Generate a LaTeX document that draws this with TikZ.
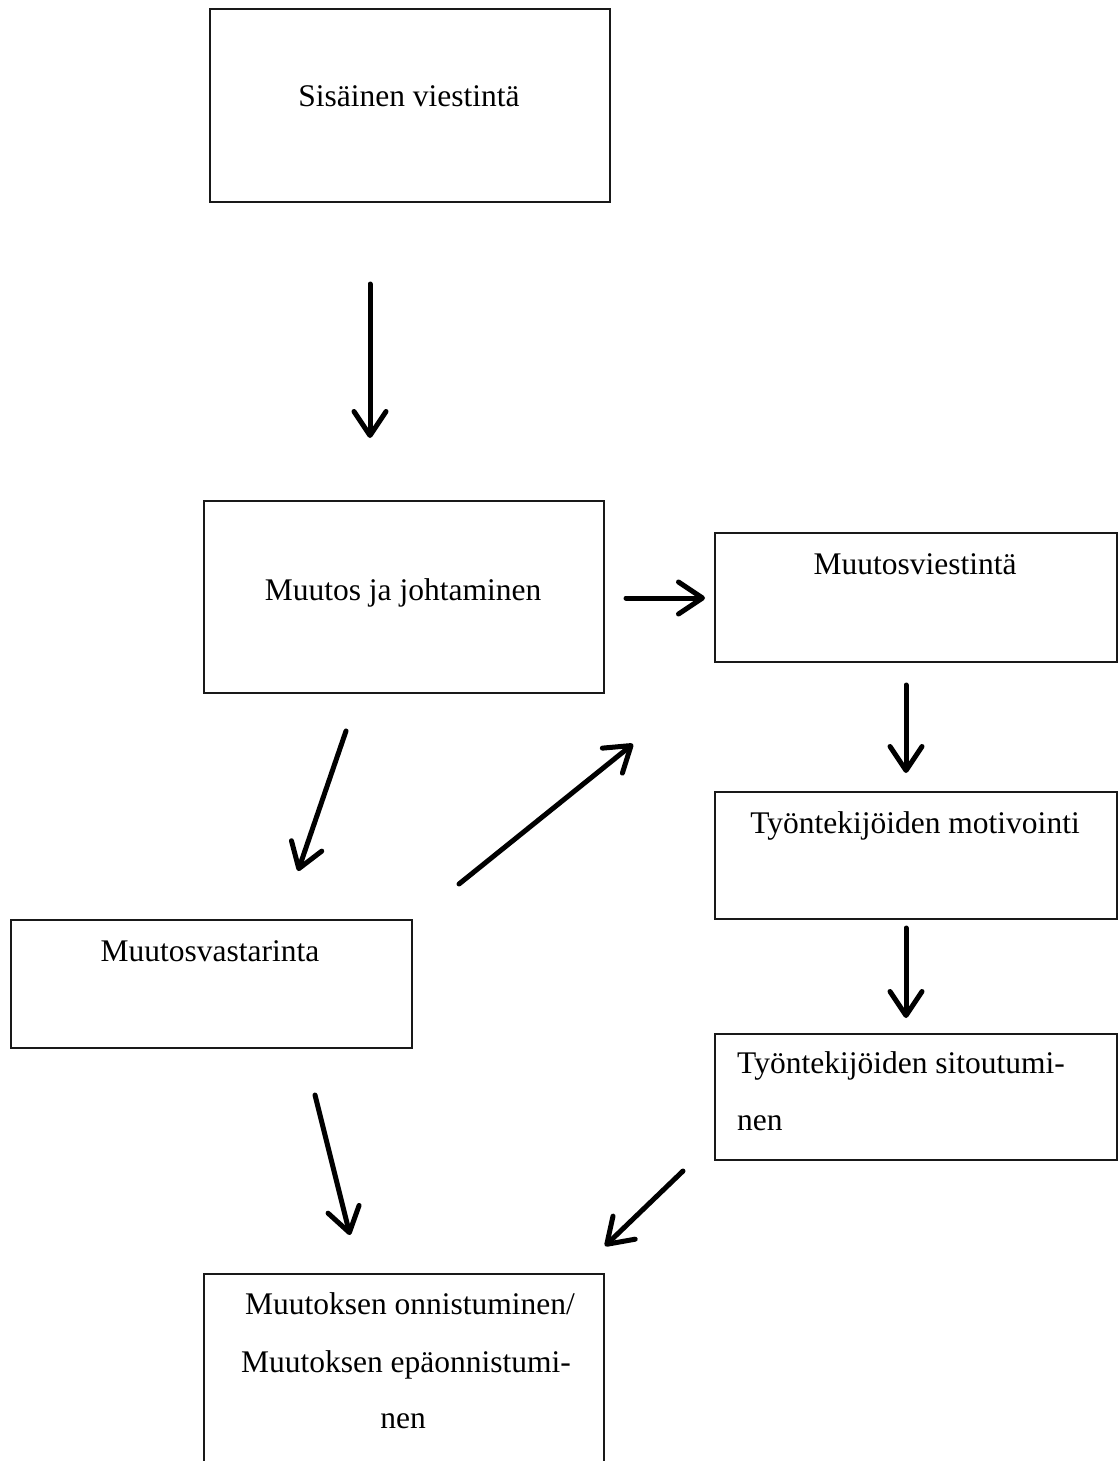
\documentclass[tikz,border=0pt]{standalone}
\usepackage{fontspec}
\setmainfont{Liberation Serif}
\usetikzlibrary{arrows.meta}
\begin{document}
\begin{tikzpicture}[x=1pt,y=-1pt,
  boxstyle/.style={draw=black!90,line width=1.7pt,rectangle,inner sep=0pt,anchor=north west},
  txt/.style={inner sep=0pt,font=\fontsize{31.5}{57}\selectfont},
  conn/.style={line width=5pt,line cap=round,-{Straight Barb[length=24pt,width=32pt,round]}}
]
\useasboundingbox (0,0) rectangle (1119,1461);
\clip (0,0) rectangle (1119,1461);
\fill[white] (0,0) rectangle (1119,1461);

% boxes
\node[boxstyle,minimum width=400pt,minimum height=193pt] (b1) at (209,8) {};
\node[boxstyle,minimum width=400pt,minimum height=192pt] (b2) at (203,500) {};
\node[boxstyle,minimum width=402pt,minimum height=129pt] (b3) at (714,532) {};
\node[boxstyle,minimum width=402pt,minimum height=127pt] (b4) at (714,791) {};
\node[boxstyle,minimum width=402pt,minimum height=126pt] (b5) at (714,1033) {};
\node[boxstyle,minimum width=401pt,minimum height=128pt] (b6) at (10,919) {};
\node[boxstyle,minimum width=400pt,minimum height=260pt] (b7) at (203,1273) {};

% texts
\node[txt,anchor=base] (t1) at (409,107) {Sisäinen viestintä};
\node[txt,anchor=base] (t2) at (403,600) {Muutos ja johtaminen};
\node[txt,anchor=base] (t3) at (915,574) {Muutosviestintä};
\node[txt,anchor=base] (t4) at (915,833) {Työntekijöiden motivointi};
\node[txt,anchor=base west] (t5a) at (737,1073) {Työntekijöiden sitoutumi-};
\node[txt,anchor=base west] (t5b) at (737,1130) {nen};
\node[txt,anchor=base] (t6) at (210,961) {Muutosvastarinta};
\node[txt,anchor=base] (t7a) at (410,1314) {Muutoksen onnistuminen/};
\node[txt,anchor=base] (t7b) at (406,1372) {Muutoksen epäonnistumi-};
\node[txt,anchor=base] (t7c) at (403,1428) {nen};

% connector end points
\coordinate (a1s) at (370,284);
\coordinate (a1e) at (370,438);
\coordinate (a2s) at (626,598);
\coordinate (a2e) at (705,598);
\coordinate (a3s) at (906,685);
\coordinate (a3e) at (906,773);
\coordinate (a4s) at (906,928);
\coordinate (a4e) at (906,1018);
\coordinate (a5s) at (346,731);
\coordinate (a5e) at (298,871);
\coordinate (a6s) at (459,884);
\coordinate (a6e) at (633,744);
\coordinate (a7s) at (315,1095);
\coordinate (a7e) at (350,1235);
\coordinate (a8s) at (683,1171);
\coordinate (a8e) at (605,1246);

\draw[conn] (a1s) -- (a1e);
\draw[conn] (a2s) -- (a2e);
\draw[conn] (a3s) -- (a3e);
\draw[conn] (a4s) -- (a4e);
\draw[conn] (a5s) -- (a5e);
\draw[conn] (a6s) -- (a6e);
\draw[conn] (a7s) -- (a7e);
\draw[conn] (a8s) -- (a8e);
\end{tikzpicture}
\end{document}
